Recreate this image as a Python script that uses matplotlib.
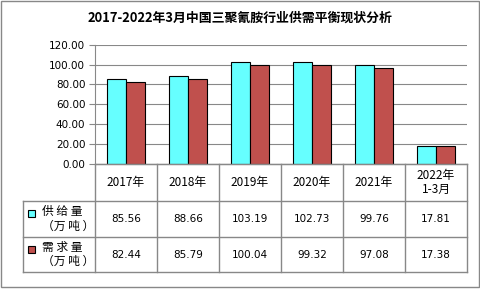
import numpy as np
import matplotlib.pyplot as plt
from matplotlib.patches import Rectangle

plt.rcParams['font.family'] = ['Noto Sans CJK SC', 'DejaVu Sans']

title = '2017-2022年3月中国三聚氰胺行业供需平衡现状分析'
categories = ['2017年', '2018年', '2019年', '2020年', '2021年', '2022年\n1-3月']
supply = [85.56, 88.66, 103.19, 102.73, 99.76, 17.81]
demand = [82.44, 85.79, 100.04, 99.32, 97.08, 17.38]
series_names = ['供 给 量\n（万 吨 ）', '需 求 量\n（万 吨 ）']
colors = ['#66FFFF', '#C0504D']

W, H = 481, 289
fig = plt.figure(figsize=(W / 100, H / 100), dpi=100)

# plot area in pixels
px_left, px_right, px_top, px_zero = 95, 467, 45, 163.5
ax = fig.add_axes([px_left / W, 1 - px_zero / H, (px_right - px_left) / W, (px_zero - px_top) / H])

n = len(categories)
x = np.arange(n)
bw = 0.3
series = [supply, demand]
for i, vals in enumerate(series):
    ax.bar(x - bw / 2 + i * bw, vals, bw, color=colors[i], edgecolor='black', linewidth=0.8, zorder=3)

ax.set_xlim(-0.5, n - 0.5)
ax.set_ylim(0, 120)
ax.set_yticks(np.arange(0, 121, 20))
ax.set_yticklabels([f'{v:.2f}' for v in np.arange(0, 121, 20)], fontsize=7.5, family='DejaVu Sans')
ax.set_xticks([])
ax.grid(axis='y', color='#888888', linewidth=0.8, zorder=0)
for s in ['top', 'right']:
    ax.spines[s].set_visible(False)
ax.spines['left'].set_color('#888888')
ax.spines['bottom'].set_color('#888888')
ax.tick_params(axis='y', length=4, color='#888888', pad=3)

# overlay in pixel coordinates for table and border
ov = fig.add_axes([0, 0, 1, 1])
ov.set_xlim(0, W)
ov.set_ylim(H, 0)
ov.axis('off')
ov.patch.set_alpha(0)

line_kw = dict(color='#888888', linewidth=1)
ov.add_patch(Rectangle((1, 1), W - 3, H - 3, fill=False, edgecolor='#888888', linewidth=1))

ov.text(W / 2, 18, title, ha='center', va='center', fontsize=9.3, fontweight='bold')

col_w = (px_right - px_left) / n
row_y = [px_zero, 201, 237, 272]
tab_left = 23
# horizontal lines
ov.plot([px_left, px_right], [row_y[0], row_y[0]], **line_kw)
for yy in row_y[1:]:
    ov.plot([tab_left, px_right], [yy, yy], **line_kw)
# vertical lines
for k in range(n + 1):
    xx = px_left + k * col_w
    ov.plot([xx, xx], [row_y[0], row_y[3]], **line_kw)
ov.plot([tab_left, tab_left], [row_y[1], row_y[3]], **line_kw)

for k, c in enumerate(categories):
    cx = px_left + (k + 0.5) * col_w
    ov.text(cx, (row_y[0] + row_y[1]) / 2, c, ha='center', va='center', fontsize=8.5, linespacing=1.1)
    for i, vals in enumerate(series):
        ov.text(cx, (row_y[i + 1] + row_y[i + 2]) / 2, f'{vals[k]:.2f}', ha='center', va='center',
                fontsize=7.5, family='DejaVu Sans')

for i, name in enumerate(series_names):
    cy = (row_y[i + 1] + row_y[i + 2]) / 2
    ov.add_patch(Rectangle((28, cy - 9), 7, 7, facecolor=colors[i], edgecolor='black', linewidth=0.8))
    ov.text(42, cy, name, ha='left', va='center', fontsize=8.5, linespacing=1.15)

fig.savefig('out.png', dpi=100)
